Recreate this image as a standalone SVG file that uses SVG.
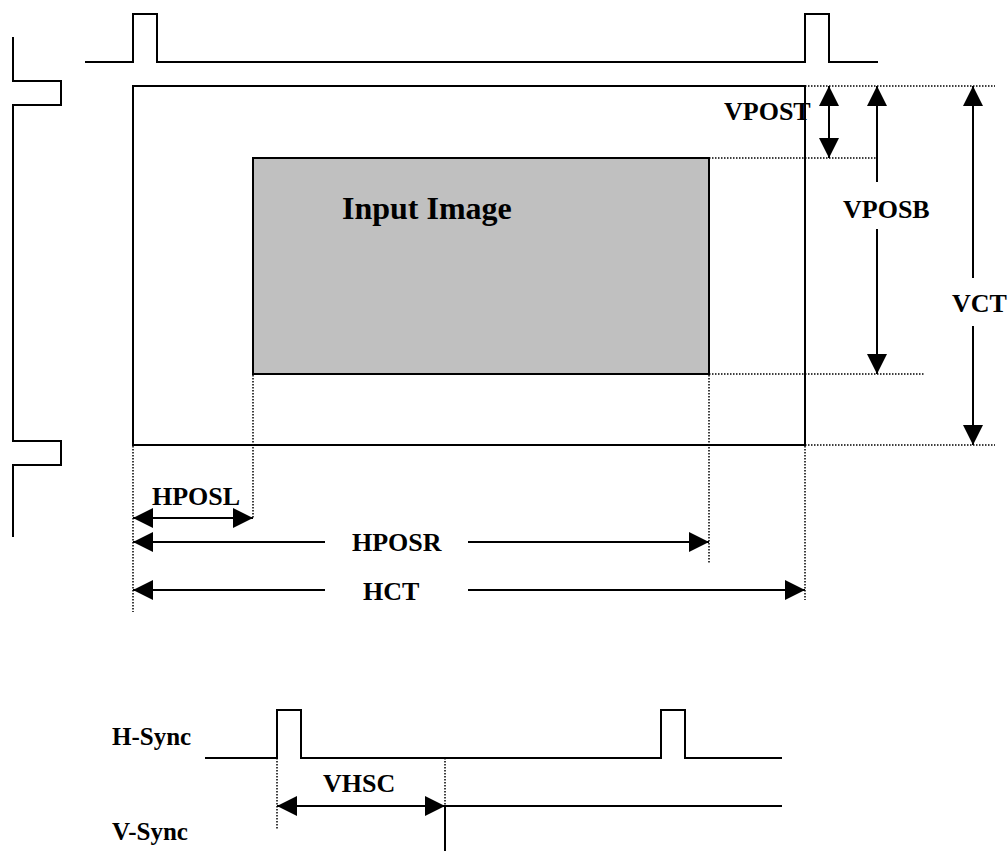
<svg xmlns="http://www.w3.org/2000/svg" width="1008" height="851" viewBox="0 0 1008 851">
<style>
.w{fill:none;stroke:#000;stroke-width:2}
.d{fill:none;stroke:#000;stroke-width:1.5;stroke-dasharray:1.5,1.5}
.a{fill:none;stroke:#000;stroke-width:2}
.both{marker-start:url(#ah);marker-end:url(#ah)}
.s{marker-start:url(#ah)}
.e{marker-end:url(#ah)}
.t{font-family:"Liberation Serif","Times New Roman",serif;font-weight:bold;font-size:26px;fill:#000}
</style>
<defs>
<marker id="ah" markerUnits="userSpaceOnUse" markerWidth="20" markerHeight="20" refX="20" refY="10" orient="auto-start-reverse" viewBox="0 0 20 20">
<path d="M0,0 L20,10 L0,20 z" fill="#000"/>
</marker>
</defs>
<rect width="1008" height="851" fill="#fff"/>
<g id="hsync-top">
<polyline class="w" points="85,62 133,62 133,14 157,14 157,62 805,62 805,14 829,14 829,62 878,62"/>
</g>
<g id="vsync-left">
<polyline class="w" points="13,37 13,81 61,81 61,105 13,105 13,441 61,441 61,465 13,465 13,537"/>
</g>
<g id="frame">
<rect class="w" x="133" y="86" width="672" height="359"/>
</g>
<g id="input-image">
<rect x="253" y="158" width="456" height="216" fill="#c0c0c0" stroke="#000" stroke-width="2"/>
<text class="t" x="342" y="219" style="font-size:32px">Input Image</text>
</g>
<g id="guides">
<line class="d" x1="805" y1="86" x2="995" y2="86"/>
<line class="d" x1="709" y1="158" x2="876" y2="158"/>
<line class="d" x1="709" y1="374" x2="924" y2="374"/>
<line class="d" x1="805" y1="445" x2="995" y2="445"/>
<line class="d" x1="133" y1="446" x2="133" y2="612"/>
<line class="d" x1="253" y1="375" x2="253" y2="518"/>
<line class="d" x1="709" y1="375" x2="709" y2="563"/>
<line class="d" x1="805" y1="446" x2="805" y2="600"/>
<line class="d" x1="277" y1="758" x2="277" y2="829"/>
<line class="d" x1="445" y1="758" x2="445" y2="806"/>
</g>
<g id="connectors">
<line class="a both" x1="829" y1="86" x2="829" y2="158"/>
<line class="a s" x1="877" y1="86" x2="877" y2="182"/>
<line class="a e" x1="877" y1="229" x2="877" y2="374"/>
<line class="a s" x1="973" y1="86" x2="973" y2="278"/>
<line class="a e" x1="973" y1="326" x2="973" y2="445"/>
<line class="a both" x1="133" y1="518" x2="253" y2="518"/>
<line class="a s" x1="133" y1="542" x2="325" y2="542"/>
<line class="a e" x1="468" y1="542" x2="709" y2="542"/>
<line class="a s" x1="133" y1="590" x2="325" y2="590"/>
<line class="a e" x1="468" y1="590" x2="805" y2="590"/>
<line class="a both" x1="277" y1="806" x2="445" y2="806"/>
</g>
<g id="labels">
<text class="t" x="724" y="120">VPOST</text>
<text class="t" x="843" y="218">VPOSB</text>
<text class="t" x="952" y="312">VCT</text>
<text class="t" x="152" y="505">HPOSL</text>
<text class="t" x="352" y="551">HPOSR</text>
<text class="t" x="363" y="600">HCT</text>
<text class="t" x="323" y="792">VHSC</text>
</g>
<g id="hsync-bottom">
<text class="t" x="112" y="745" style="font-size:25px">H-Sync</text>
<polyline class="w" points="205,758 277,758 277,710 301,710 301,758 661,758 661,710 685,710 685,758 782,758"/>
</g>
<g id="vsync-bottom">
<text class="t" x="112" y="840" style="font-size:25px">V-Sync</text>
<polyline class="w" points="445,851 445,806 782,806"/>
</g>
</svg>
